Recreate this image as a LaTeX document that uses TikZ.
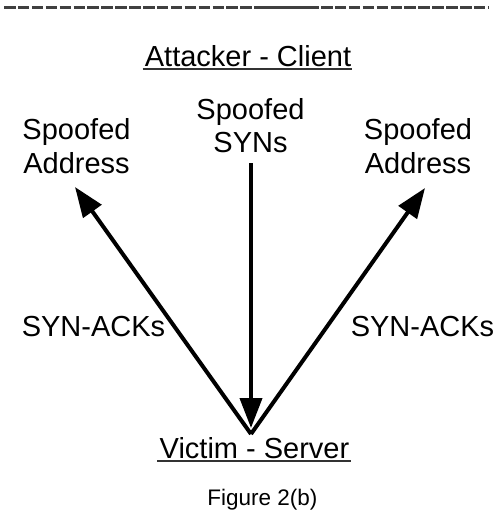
\documentclass[tikz,border=0pt]{standalone}
\usepackage{fontspec}
\setmainfont{Liberation Sans}
\usetikzlibrary{arrows.meta}
\begin{document}
\begin{tikzpicture}[x=1pt,y=-1pt,
  lbl/.style={inner sep=0pt, anchor=base, font=\fontsize{29}{34}\selectfont},
  caption/.style={inner sep=0pt, anchor=base, font=\fontsize{22.5}{27}\selectfont},
  uline/.style={line width=2pt, draw=black!80},
  rulebar/.style={line width=3pt, draw=black!75},
  flow/.style={line width=4pt, -{Triangle[length=30pt,width=22pt]}},
]
\useasboundingbox (0,0) rectangle (496,520);

% separator rule at the top: dashed, with a short solid stretch
\coordinate (r0) at (4,7);
\coordinate (r1) at (257,7);
\coordinate (r2) at (319,7);
\coordinate (r3) at (488,7);
\draw[rulebar, dash pattern=on 11.5pt off 2.4pt] (r0) -- (r1);
\draw[rulebar] (r1) -- (r2);
\draw[rulebar, dash pattern=on 11.5pt off 2.4pt] ([xshift=2pt]r2) -- (r3);

% labels
\node[lbl] (att) at (248,66) {Attacker - Client};
\draw[uline] ([shift={(-2pt,-3pt)}]att.base west) -- ([shift={(1pt,-3pt)}]att.base east);

\node[lbl] (syn1) at (250.5,119) {Spoofed};
\node[lbl] (syn2) at (250.5,152) {SYNs};

\node[lbl] (la1) at (76.5,139) {Spoofed};
\node[lbl] (la2) at (76.5,173) {Address};

\node[lbl] (ra1) at (418,139) {Spoofed};
\node[lbl] (ra2) at (418,173) {Address};

\node[lbl] (lack) at (93.5,336) {SYN-ACKs};
\node[lbl] (rack) at (422.5,336) {SYN-ACKs};

\node[lbl] (vic) at (254.5,458) {Victim - Server};
\draw[uline] ([shift={(-2pt,-3pt)}]vic.base west) -- ([shift={(1pt,-3pt)}]vic.base east);

\node[caption] (fig) at (262.5,505) {Figure 2(b)};

% connector end points
\coordinate (apex) at (251,434);
\coordinate (ltip) at (75,187);
\coordinate (rtip) at (425,188);
\coordinate (vtop) at (251,163);
\coordinate (vtip) at (251,428);

% SYN flood in, SYN-ACKs out
\draw[flow] (vtop) -- (vtip);
\draw[flow] (apex) -- (ltip);
\draw[flow] (apex) -- (rtip);
\end{tikzpicture}
\end{document}
